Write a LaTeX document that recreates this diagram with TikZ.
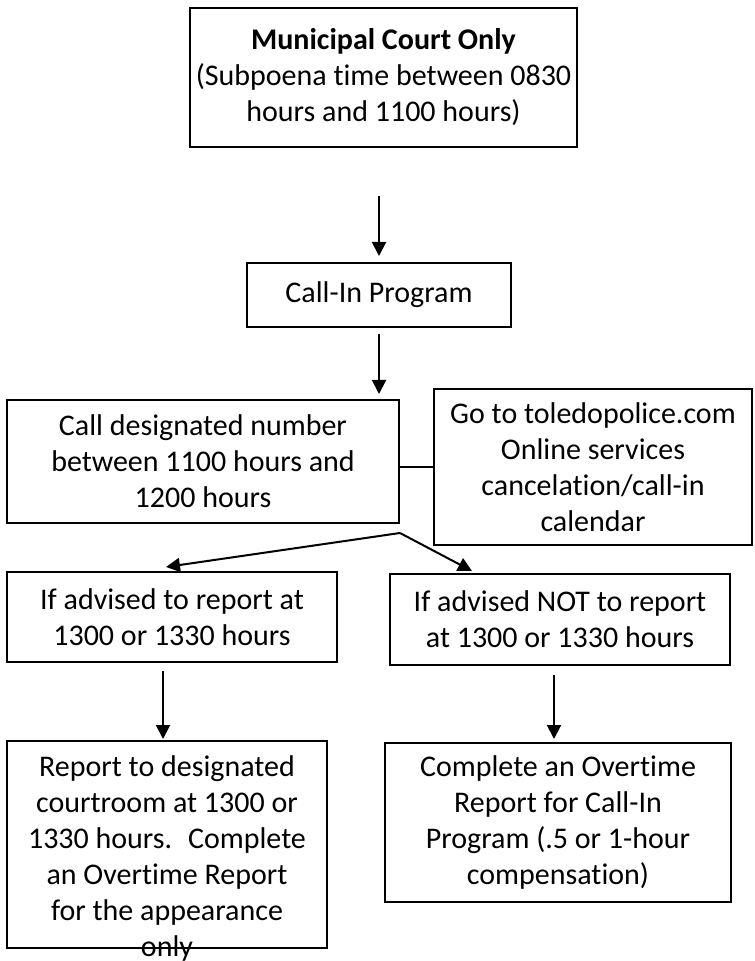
\documentclass[tikz,border=0pt]{standalone}
\usepackage{fontspec}
\setmainfont{Carlito}[Ligatures={NoCommon,NoContextual}]
\usetikzlibrary{arrows.meta, positioning}

\begin{document}
\begin{tikzpicture}[x=0.5pt, y=-0.5pt,
    box/.style={draw, line width=1pt, rectangle, align=center, inner sep=2pt,
        font=\fontsize{15pt}{18pt}\selectfont},
    flow/.style={line width=1pt, -{Triangle[length=7pt, width=7pt]}}]
    \useasboundingbox (0,0) rectangle (754,961);

    \node[box, minimum width=193.5pt, minimum height=69.5pt] (muni) at (383.5,77.5)
        {\textbf{Municipal Court Only}\\(Subpoena time between 0830\\hours and 1100 hours)};
    \node[box, minimum width=132pt, minimum height=32pt] (callin) at (379,295) {Call-In Program};
    \node[box, minimum width=196pt, minimum height=61.5pt] (calldes) at (203,461.5)
        {Call designated number\\between 1100 hours and\\1200 hours};
    \node[box, minimum width=159pt, minimum height=78pt] (website) at (593,467)
        {Go to toledopolice.com\\Online services\\cancelation/call-in\\calendar};
    \node[box, minimum width=165pt, minimum height=45pt] (advyes) at (172,617)
        {If advised to report at\\1300 or 1330 hours};
    \node[box, minimum width=170pt, minimum height=45.5pt] (advno) at (560,619.5)
        {If advised NOT to report\\at 1300 or 1330 hours};
    \node[box, minimum width=160pt, minimum height=103.5pt] (report) at (167,844.5) {};
    \node[align=center, inner sep=0pt, anchor=north, font=\fontsize{15pt}{18pt}\selectfont]
        (reporttxt) at ([yshift=-7.5pt]report.north)
        {Report to designated\\courtroom at 1300 or\\1330 hours.~ Complete\\an Overtime Report\\for the appearance\\only};
    \node[box, minimum width=173pt, minimum height=79.5pt] (overtime) at (558,822.5)
        {Complete an Overtime\\Report for Call-In\\Program (.5 or 1-hour\\compensation)};

    \coordinate (split) at ([yshift=-4.5pt]calldes.south east);
    \coordinate (ltop) at ([xshift=-2pt]report.north);
    \coordinate (rtop) at ([xshift=-2pt]overtime.north);

    \draw[flow, shorten <=24pt, shorten >=3pt] (muni.south -| callin.north) -- (callin.north);
    \draw[flow, shorten <=3pt, shorten >=2.5pt] (callin.south) -- (callin.south |- calldes.north);
    \draw[line width=1pt] (website.west) -- (website.west -| calldes.east);
    \draw[flow] (split) -- ([xshift=-3pt, yshift=2pt]advyes.north);
    \draw[flow] (split) -- ([xshift=41.5pt, yshift=1pt]advno.north west);
    \draw[flow, shorten <=4pt, shorten >=0.5pt] (advyes.south -| ltop) -- (ltop);
    \draw[flow, shorten <=4.5pt, shorten >=1.5pt] (advno.south -| rtop) -- (rtop);
\end{tikzpicture}
\end{document}
